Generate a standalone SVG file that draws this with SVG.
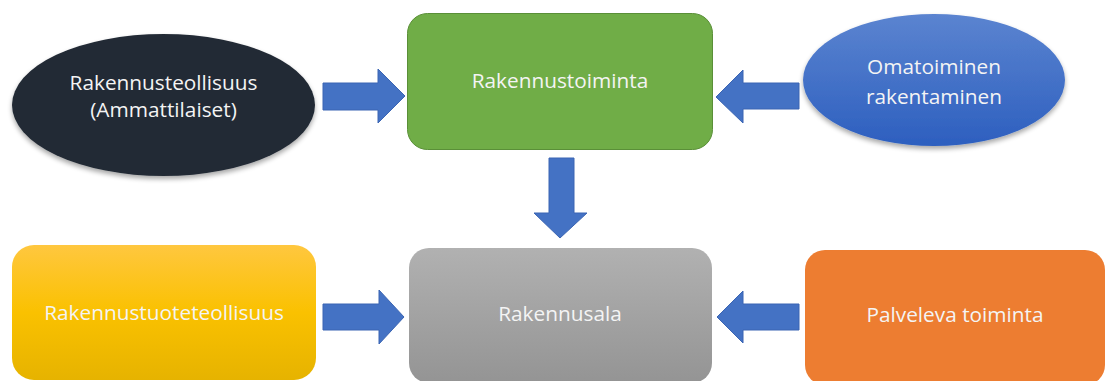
<svg xmlns="http://www.w3.org/2000/svg" width="1105" height="381" viewBox="0 0 1105 381">
<style>
.lbl{font-family:"Open Sans","Noto Sans","Liberation Sans",sans-serif;font-size:20.8px;fill:#f4f4f4;text-anchor:middle}
.arrow{fill:#4472c4;stroke:#3b65b3;stroke-width:1}
</style>
<defs>
<linearGradient id="gBlue" x1="0" y1="0" x2="0" y2="1">
<stop offset="0" stop-color="#5b84d0"/>
<stop offset="1" stop-color="#2d5fbf"/>
</linearGradient>
<linearGradient id="gYellow" x1="0" y1="0" x2="0" y2="1">
<stop offset="0" stop-color="#ffc73f"/>
<stop offset="0.5" stop-color="#fac100"/>
<stop offset="1" stop-color="#e6b300"/>
</linearGradient>
<linearGradient id="gGray" x1="0" y1="0" x2="0" y2="1">
<stop offset="0" stop-color="#b1b1b1"/>
<stop offset="1" stop-color="#949494"/>
</linearGradient>
<filter id="shadow" x="-10%" y="-10%" width="120%" height="130%">
<feGaussianBlur in="SourceAlpha" stdDeviation="2.5"/>
<feOffset dx="0" dy="3" result="b"/>
<feComponentTransfer><feFuncA type="linear" slope="0.35"/></feComponentTransfer>
<feMerge><feMergeNode/><feMergeNode in="SourceGraphic"/></feMerge>
</filter>
</defs>
<rect width="1105" height="381" fill="#ffffff"/>
<g id="connectors">
<polygon class="arrow" points="323,83 378,83 378,69 405,96 378,123 378,110 323,110"/>
<polygon class="arrow" points="799,83 743,83 743,70 716,97 743,123 743,109 799,109"/>
<polygon class="arrow" points="549,158 574,158 574,213 587,213 560,238 534,213 549,213"/>
<polygon class="arrow" points="323,304 379,304 379,290 404,317 379,344 379,330 323,330"/>
<polygon class="arrow" points="799,304 743,304 743,291 717,317 743,343 743,330 799,330"/>
</g>
<g id="node-rakennusteollisuus">
<ellipse cx="163.5" cy="105" rx="151.5" ry="71" fill="#222a35" filter="url(#shadow)"/>
<text class="lbl" x="163.5" y="90">Rakennusteollisuus</text>
<text class="lbl" x="163.5" y="117">(Ammattilaiset)</text>
</g>
<g id="node-rakennustoiminta">
<rect x="407.5" y="13.5" width="305" height="136" rx="20" fill="#70ad47" stroke="#5a8f38" stroke-width="1"/>
<text class="lbl" x="560" y="88">Rakennustoiminta</text>
</g>
<g id="node-omatoiminen">
<ellipse cx="934" cy="80" rx="131" ry="66" fill="url(#gBlue)" filter="url(#shadow)"/>
<text class="lbl" x="934" y="74">Omatoiminen</text>
<text class="lbl" x="934" y="104">rakentaminen</text>
</g>
<g id="node-rakennustuoteteollisuus">
<rect x="12" y="245" width="304" height="135" rx="22" fill="url(#gYellow)"/>
<text class="lbl" x="164" y="320">Rakennustuoteteollisuus</text>
</g>
<g id="node-rakennusala">
<rect x="409" y="248" width="303" height="135" rx="20" fill="url(#gGray)"/>
<text class="lbl" x="560" y="321">Rakennusala</text>
</g>
<g id="node-palveleva">
<rect x="805" y="250" width="300" height="135" rx="20" fill="#ed7d31"/>
<text class="lbl" x="955" y="322">Palveleva toiminta</text>
</g>
</svg>
